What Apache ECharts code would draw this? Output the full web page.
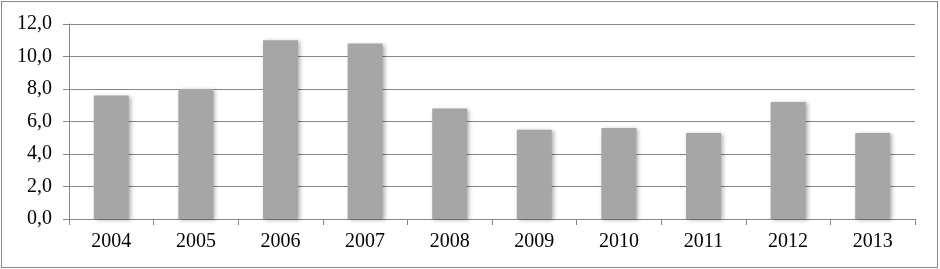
<!DOCTYPE html>
<html><head><meta charset="utf-8">
<script src="https://cdn.jsdelivr.net/npm/echarts@6/dist/echarts.min.js"></script>
<style>html,body{margin:0;padding:0;background:#fff}#c{width:940px;height:269px;position:relative}
#b{position:absolute;left:1px;top:1px;width:935px;height:265px;border:1px solid #868686;pointer-events:none}</style>
</head><body><div id="c"></div><div id="b"></div>
<script>
const categories = ['2004','2005','2006','2007','2008','2009','2010','2011','2012','2013'];
const values = [7.6, 8.0, 11.0, 10.8, 6.8, 5.5, 5.6, 5.3, 7.2, 5.3];
const yTicks = [0, 2, 4, 6, 8, 10, 12];
const chart = echarts.init(document.getElementById('c'), null, {renderer:'canvas'});
const font = '"Liberation Serif", "Times New Roman", serif';
chart.setOption({
  animation:false,
  grid:{left:69, right:25, top:24, bottom:50},
  xAxis:{type:'category', data:categories,
    axisLine:{lineStyle:{color:'#868686', width:1}},
    axisTick:{show:true, alignWithLabel:false, length:6, lineStyle:{color:'#868686'}},
    axisLabel:{color:'#000', fontFamily:font, fontSize:20, margin:13}},
  yAxis:{type:'value', min:yTicks[0], max:yTicks[yTicks.length-1], interval:2,
    axisLine:{show:true, lineStyle:{color:'#868686', width:1}},
    axisTick:{show:true, length:6, lineStyle:{color:'#868686'}},
    splitLine:{lineStyle:{color:'#868686', width:1}},
    axisLabel:{color:'#000', fontFamily:font, fontSize:20, margin:17,
      formatter:v=>v.toFixed(1).replace('.',',')}},
  series:[{type:'bar', data:values, barWidth:35,
    itemStyle:{color:'#a6a6a6', shadowColor:'rgba(0,0,0,0.3)', shadowBlur:4, shadowOffsetX:2, shadowOffsetY:1}}]
});
</script></body></html>
